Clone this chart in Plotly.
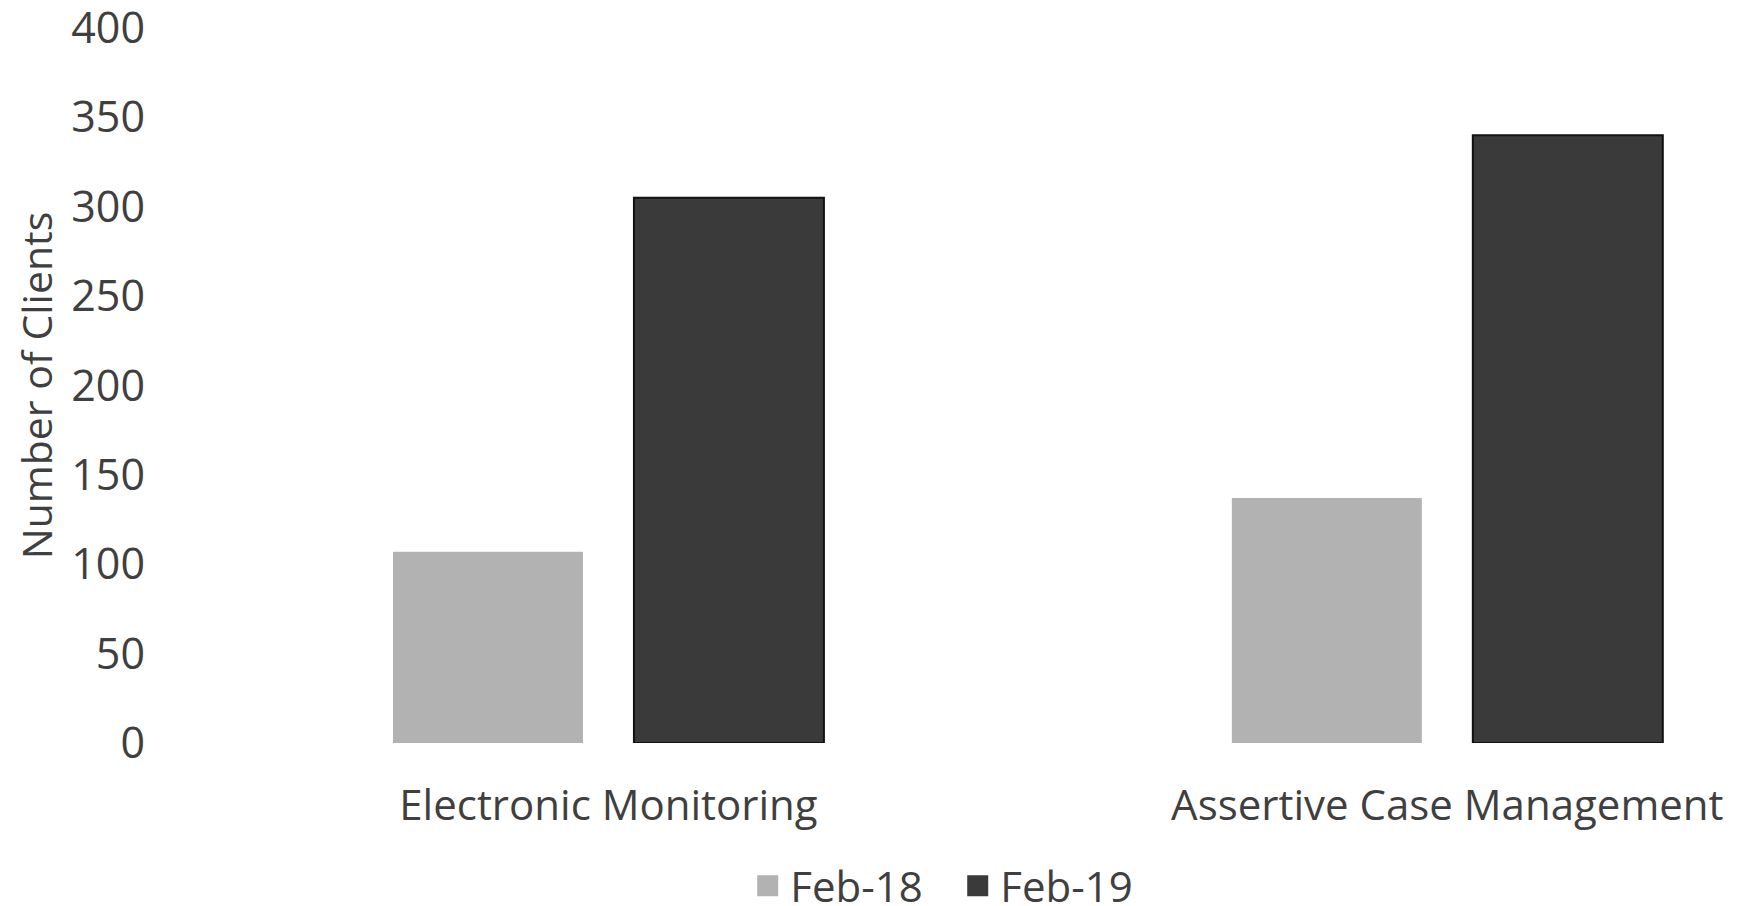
import plotly.graph_objects as go

categories = ["Electronic Monitoring", "Assertive Case Management"]
feb18 = [107, 137]
feb19 = [305, 340]
series_names = ["Feb-18", "Feb-19"]
y_ticks = [0, 50, 100, 150, 200, 250, 300, 350, 400]

FONT = "Open Sans"
TXT = "#3f3f3f"
C18 = "#b2b2b2"
C19 = "#3a3a3a"

fig = go.Figure()
fig.add_trace(go.Bar(
    x=categories, y=feb18, name=series_names[0], showlegend=False,
    marker=dict(color=C18, line=dict(width=0)),
))
fig.add_trace(go.Bar(
    x=categories, y=feb19, name=series_names[1], showlegend=False,
    marker=dict(color=C19, line=dict(color="#111111", width=2)),
))
# legend entries with larger square swatches
fig.add_trace(go.Scatter(
    x=[None], y=[None], mode="markers", name=series_names[0],
    marker=dict(symbol="square", size=16, color=C18, line=dict(color=C18, width=5)),
))
fig.add_trace(go.Scatter(
    x=[None], y=[None], mode="markers", name=series_names[1],
    marker=dict(symbol="square", size=16, color=C19, line=dict(color=C19, width=5)),
))

fig.update_layout(
    width=1730, height=898,
    margin=dict(l=155, r=0, t=20, b=163, autoexpand=False),
    paper_bgcolor="white", plot_bgcolor="white",
    barmode="group", bargap=0.4255, bargroupgap=0.2116,
    font=dict(family=FONT, color=TXT, size=42),
    showlegend=True,
    legend=dict(orientation="h", x=0.503, xanchor="center", y=-0.2, yanchor="middle",
                font=dict(size=42, family=FONT, color=TXT), itemwidth=35,
                entrywidth=160, entrywidthmode="pixels",
                traceorder="normal"),
)
fig.update_xaxes(
    type="category", range=[-0.531, 1.3465],
    showgrid=False, showline=False, zeroline=False, ticks="",
    tickfont=dict(size=42, family=FONT, color=TXT),
    ticklabelstandoff=34,
)
fig.update_yaxes(
    range=[0, 400], tickvals=y_ticks,
    showgrid=False, showline=False, zeroline=False, ticks="",
    tickfont=dict(size=43, family=FONT, color=TXT),
    ticklabelstandoff=17, ticklabeloverflow="allow",
    title=dict(text="Number of Clients", font=dict(size=41, family=FONT, color=TXT), standoff=10),
)

fig.write_html("out.html")
